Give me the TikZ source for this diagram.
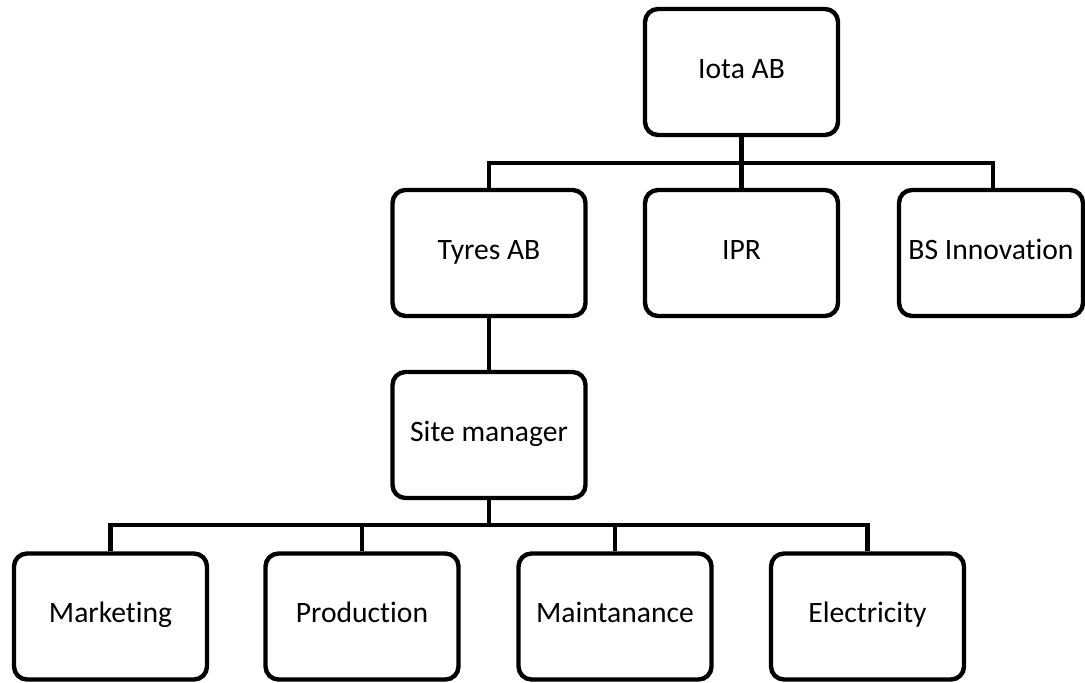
\documentclass[tikz,border=0pt]{standalone}
\usepackage{fontspec}
\setmainfont{Carlito}[Ligatures={NoCommon}]
\begin{document}
\begin{tikzpicture}[x=0.5pt,y=-0.5pt,
  unit/.style={draw=black, line width=2.2pt, rounded corners=6.5pt, fill=white,
    minimum width=96.5pt, minimum height=63pt, inner sep=0pt,
    font=\fontsize{14.8pt}{17pt}\selectfont, text height=0.644em, text depth=0pt},
  link/.style={draw=black, line width=2.2pt}]
  % canvas
  \fill[white] (0,0) rectangle (1085,683);
  \useasboundingbox (0,0) rectangle (1085,683);

  % top level
  \node[unit] (iota) at (741.5,72) {Iota AB};

  % second level
  \node[unit] (tyres) at (489,253) {Tyres AB};
  \node[unit] (ipr) at (741.5,253) {IPR};
  \node[unit, minimum width=92pt] (bsi) at (991,253) {BS Innovation};

  % site level
  \node[unit] (site) at (489,435) {Site manager};

  % departments
  \node[unit] (mkt) at (110.5,616.5) {Marketing};
  \node[unit] (prod) at (362,616.5) {Production};
  \node[unit] (maint) at (615,616.5) {Maintanance};
  \node[unit] (elec) at (867.5,616.5) {Electricity};

  % bus lines
  \coordinate (busA) at (0,163);
  \coordinate (busB) at (0,525);

  \draw[link] (iota.south) -- (iota.south |- busA) -| (tyres.north);
  \draw[link] (iota.south) -- (iota.south |- busA) -| (ipr.north);
  \draw[link] (iota.south) -- (iota.south |- busA) -| ([xshift=1pt]bsi.north);

  \draw[link] (tyres.south) -- (site.north);

  \draw[link] (site.south) -- (site.south |- busB) -| (mkt.north);
  \draw[link] (site.south) -- (site.south |- busB) -| (prod.north);
  \draw[link] (site.south) -- (site.south |- busB) -| (maint.north);
  \draw[link] (site.south) -- (site.south |- busB) -| (elec.north);
\end{tikzpicture}
\end{document}
